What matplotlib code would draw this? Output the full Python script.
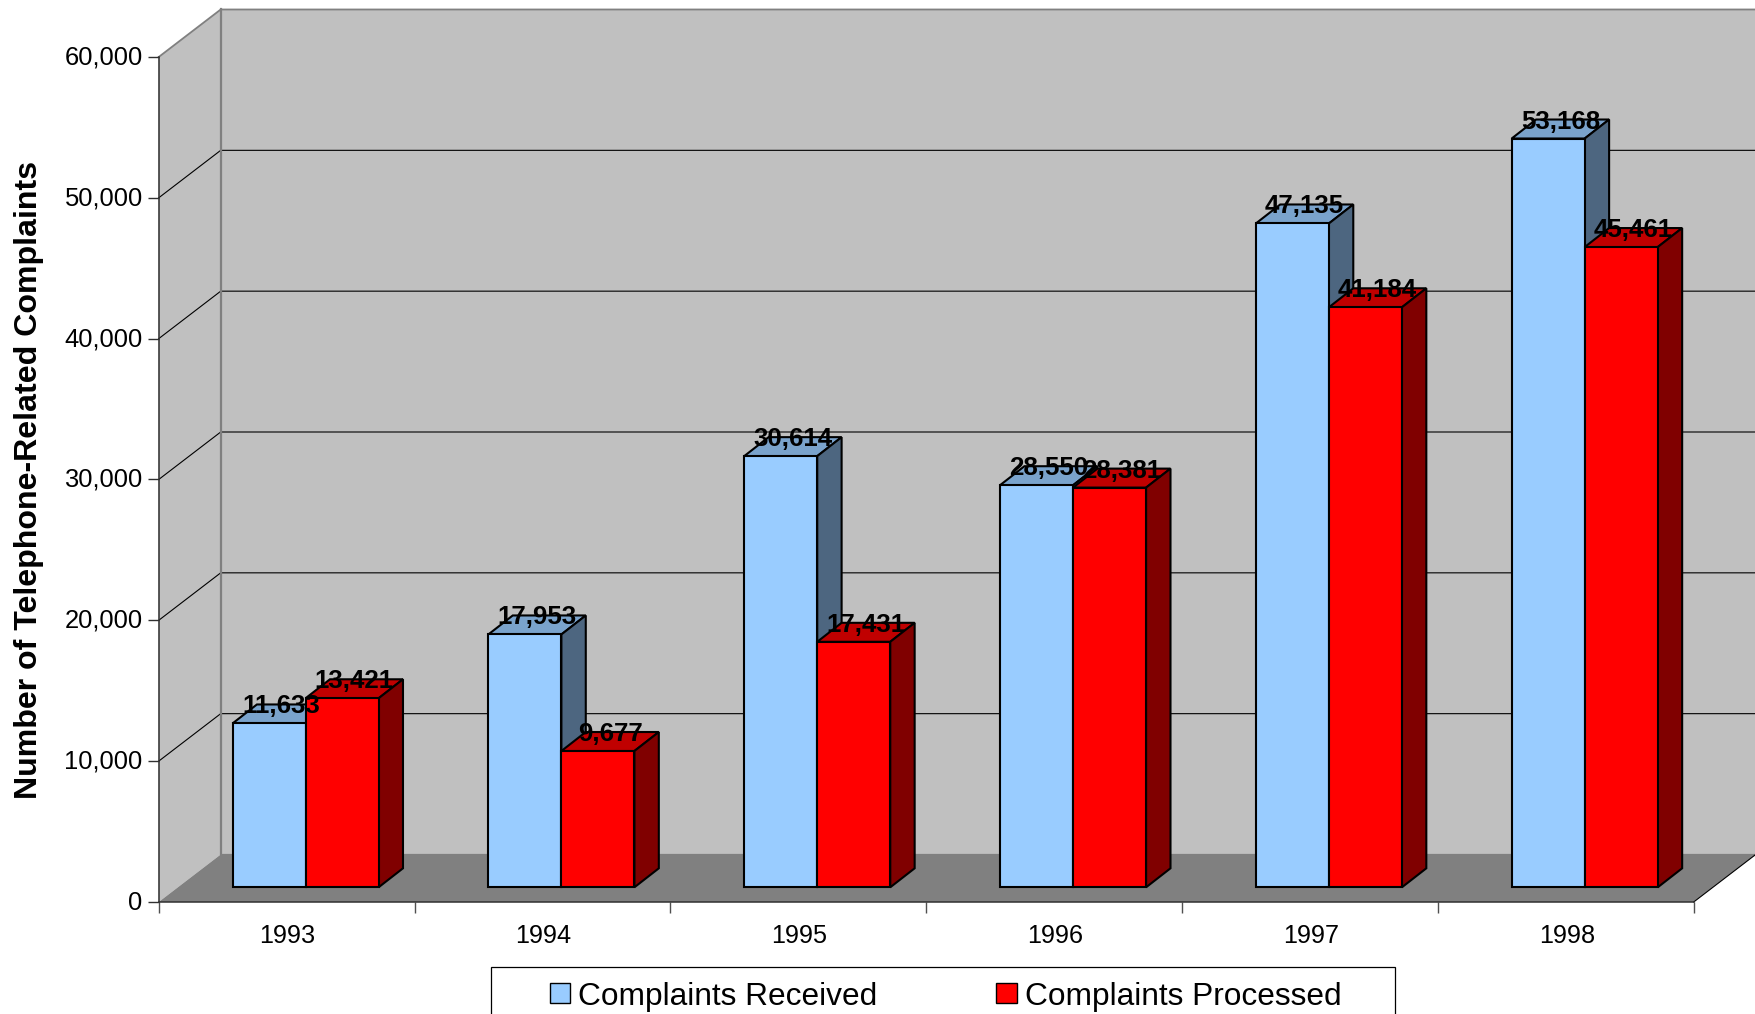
import matplotlib
matplotlib.use('Agg')
import matplotlib.pyplot as plt
from matplotlib.patches import Patch, Polygon, Rectangle
from matplotlib.transforms import ScaledTranslation

plt.rcParams['font.family'] = ['Liberation Sans', 'DejaVu Sans']

years = ['1993', '1994', '1995', '1996', '1997', '1998']
received = [11633, 17953, 30614, 28550, 47135, 53168]
processed = [13421, 9677, 17431, 28381, 41184, 45461]
y_ticks = [0, 10000, 20000, 30000, 40000, 50000, 60000]

W, H = 1755, 1014
# front plane of the chart box, in pixels
LEFT, RIGHT, TOP, BOTTOM = 158.7, 1693.7, 57, 902
px_x = 6 / (RIGHT - LEFT)
px_y = 60000 / (BOTTOM - TOP)

# oblique projection offsets, converted to data units
wall_dx, wall_dy = 62 * px_x, 47.5 * px_y
bar_dx, bar_dy = 24.4 * px_x, 19 * px_y
bar_base = 14.7 * px_y
bar_left = 0.2885
bar_w = 0.2855

WALL = '#C0C0C0'
FLOOR = '#808080'
BLUE = ('#99CCFF', '#7AA3CC', '#4D6680')
RED = ('#FF0000', '#C00000', '#800000')


def draw_bar(ax, x, value, colors):
    top = bar_base + value
    ax.bar(x, value, bar_w, bottom=bar_base, align='edge', color=colors[0],
           edgecolor='black', linewidth=1.5, zorder=5, clip_on=False)
    ax.add_patch(Polygon([(x, top), (x + bar_w, top), (x + bar_w + bar_dx, top + bar_dy),
                          (x + bar_dx, top + bar_dy)], closed=True, fc=colors[1], ec='black',
                         lw=1.5, zorder=4, clip_on=False))
    ax.add_patch(Polygon([(x + bar_w, bar_base), (x + bar_w + bar_dx, bar_base + bar_dy),
                          (x + bar_w + bar_dx, top + bar_dy), (x + bar_w, top)], closed=True,
                         fc=colors[2], ec='black', lw=1.5, zorder=4, clip_on=False))
    # value sits over the middle of the top face, along its back edge
    ax.text(x + bar_w / 2 + bar_dx / 2, top + bar_dy - 2 * px_y, f'{value:,}', ha='center',
            va='center', fontsize=18.6, fontweight='bold', color='black', zorder=20,
            clip_on=False)


fig = plt.figure(figsize=(W / 100, H / 100), dpi=100, facecolor='white')
ax = fig.add_axes([LEFT / W, 1 - BOTTOM / H, (RIGHT - LEFT) / W, (BOTTOM - TOP) / H])
ax.set_xlim(0, 6)
ax.set_ylim(0, 60000)
ax.patch.set_visible(False)

# back wall, side wall and floor
ax.add_patch(Polygon([(wall_dx, wall_dy), (6 + wall_dx, wall_dy), (6 + wall_dx, 60000 + wall_dy),
                      (wall_dx, 60000 + wall_dy)], fc=WALL, ec='none', zorder=0, clip_on=False))
ax.add_patch(Polygon([(0, 0), (wall_dx, wall_dy), (wall_dx, 60000 + wall_dy), (0, 60000)],
                     fc=WALL, ec='none', zorder=0, clip_on=False))
ax.add_patch(Polygon([(0, 0), (6, 0), (6 + wall_dx, wall_dy), (wall_dx, wall_dy)],
                     fc=FLOOR, ec='none', zorder=0, clip_on=False))

# gridlines run along the side wall and across the back
for v in y_ticks[1:-1]:
    ax.plot([0, wall_dx, 6 + wall_dx], [v, v + wall_dy, v + wall_dy], color='black', lw=0.8,
            zorder=1, clip_on=False)
ax.plot([0, wall_dx, 6 + wall_dx], [60000, 60000 + wall_dy, 60000 + wall_dy], color=FLOOR,
        lw=1.3, zorder=1, clip_on=False)
ax.plot([wall_dx, wall_dx, 6 + wall_dx], [60000 + wall_dy, wall_dy, wall_dy], color=FLOOR,
        lw=1.6, zorder=1, clip_on=False)
ax.plot([6, 6 + wall_dx], [0, wall_dy], color='black', lw=0.8, zorder=1, clip_on=False)

for i in range(len(years)):
    draw_bar(ax, i + bar_left, received[i], BLUE)
    draw_bar(ax, i + bar_left + bar_w, processed[i], RED)

for side in ('top', 'right'):
    ax.spines[side].set_visible(False)
for side in ('left', 'bottom'):
    ax.spines[side].set_color('#303030')
    ax.spines[side].set_linewidth(1.1)
    ax.spines[side].set_zorder(2)

ax.set_yticks(y_ticks)
ax.set_yticklabels([f'{v:,}' for v in y_ticks], fontsize=18.4)
ax.set_xticks(range(7))
ax.set_xticklabels([])
ax.set_xticks([i + 0.5 for i in range(6)], minor=True)
ax.set_xticklabels(years, minor=True, fontsize=18.2)
ax.tick_params(axis='y', length=8, width=1, color='#303030', pad=3.5)
ax.tick_params(axis='x', which='major', length=8, width=1, color='#505050')
ax.tick_params(axis='x', which='minor', length=0, pad=16)

# nudge the tick labels off their default baseline
up = ScaledTranslation(0, 2 / 100, fig.dpi_scale_trans)
for label in ax.get_yticklabels():
    label.set_transform(label.get_transform() + up)
right = ScaledTranslation(1 / 100, 0, fig.dpi_scale_trans)
for label in ax.get_xticklabels(minor=True):
    label.set_transform(label.get_transform() + right)

fig.text(29 / W, 1 - 480 / H, 'Number of Telephone-Related Complaints', rotation=90,
         ha='center', va='center', fontsize=23.1, fontweight='bold')

# legend box runs off the bottom edge, so the frame is drawn apart from the entries
fig.add_artist(Rectangle((491 / W, -0.02), 904 / W, 0.02 + 47 / H, transform=fig.transFigure,
                         fc='white', ec='black', lw=0.9))
handles = [Patch(fc=BLUE[0], ec='black', lw=1, label='Complaints Received'),
           Patch(fc=RED[0], ec='black', lw=1, label='Complaints Processed')]
leg = fig.legend(handles=handles, ncol=2, loc='upper left',
                 bbox_to_anchor=(549.5 / W, 1 - 981.5 / H), bbox_transform=fig.transFigure,
                 fontsize=22.8, frameon=False, borderaxespad=0, borderpad=0, handlelength=0.66,
                 handleheight=0.6, handletextpad=0.25, columnspacing=3.75)

fig.savefig('out.png', dpi=100, facecolor='white')
